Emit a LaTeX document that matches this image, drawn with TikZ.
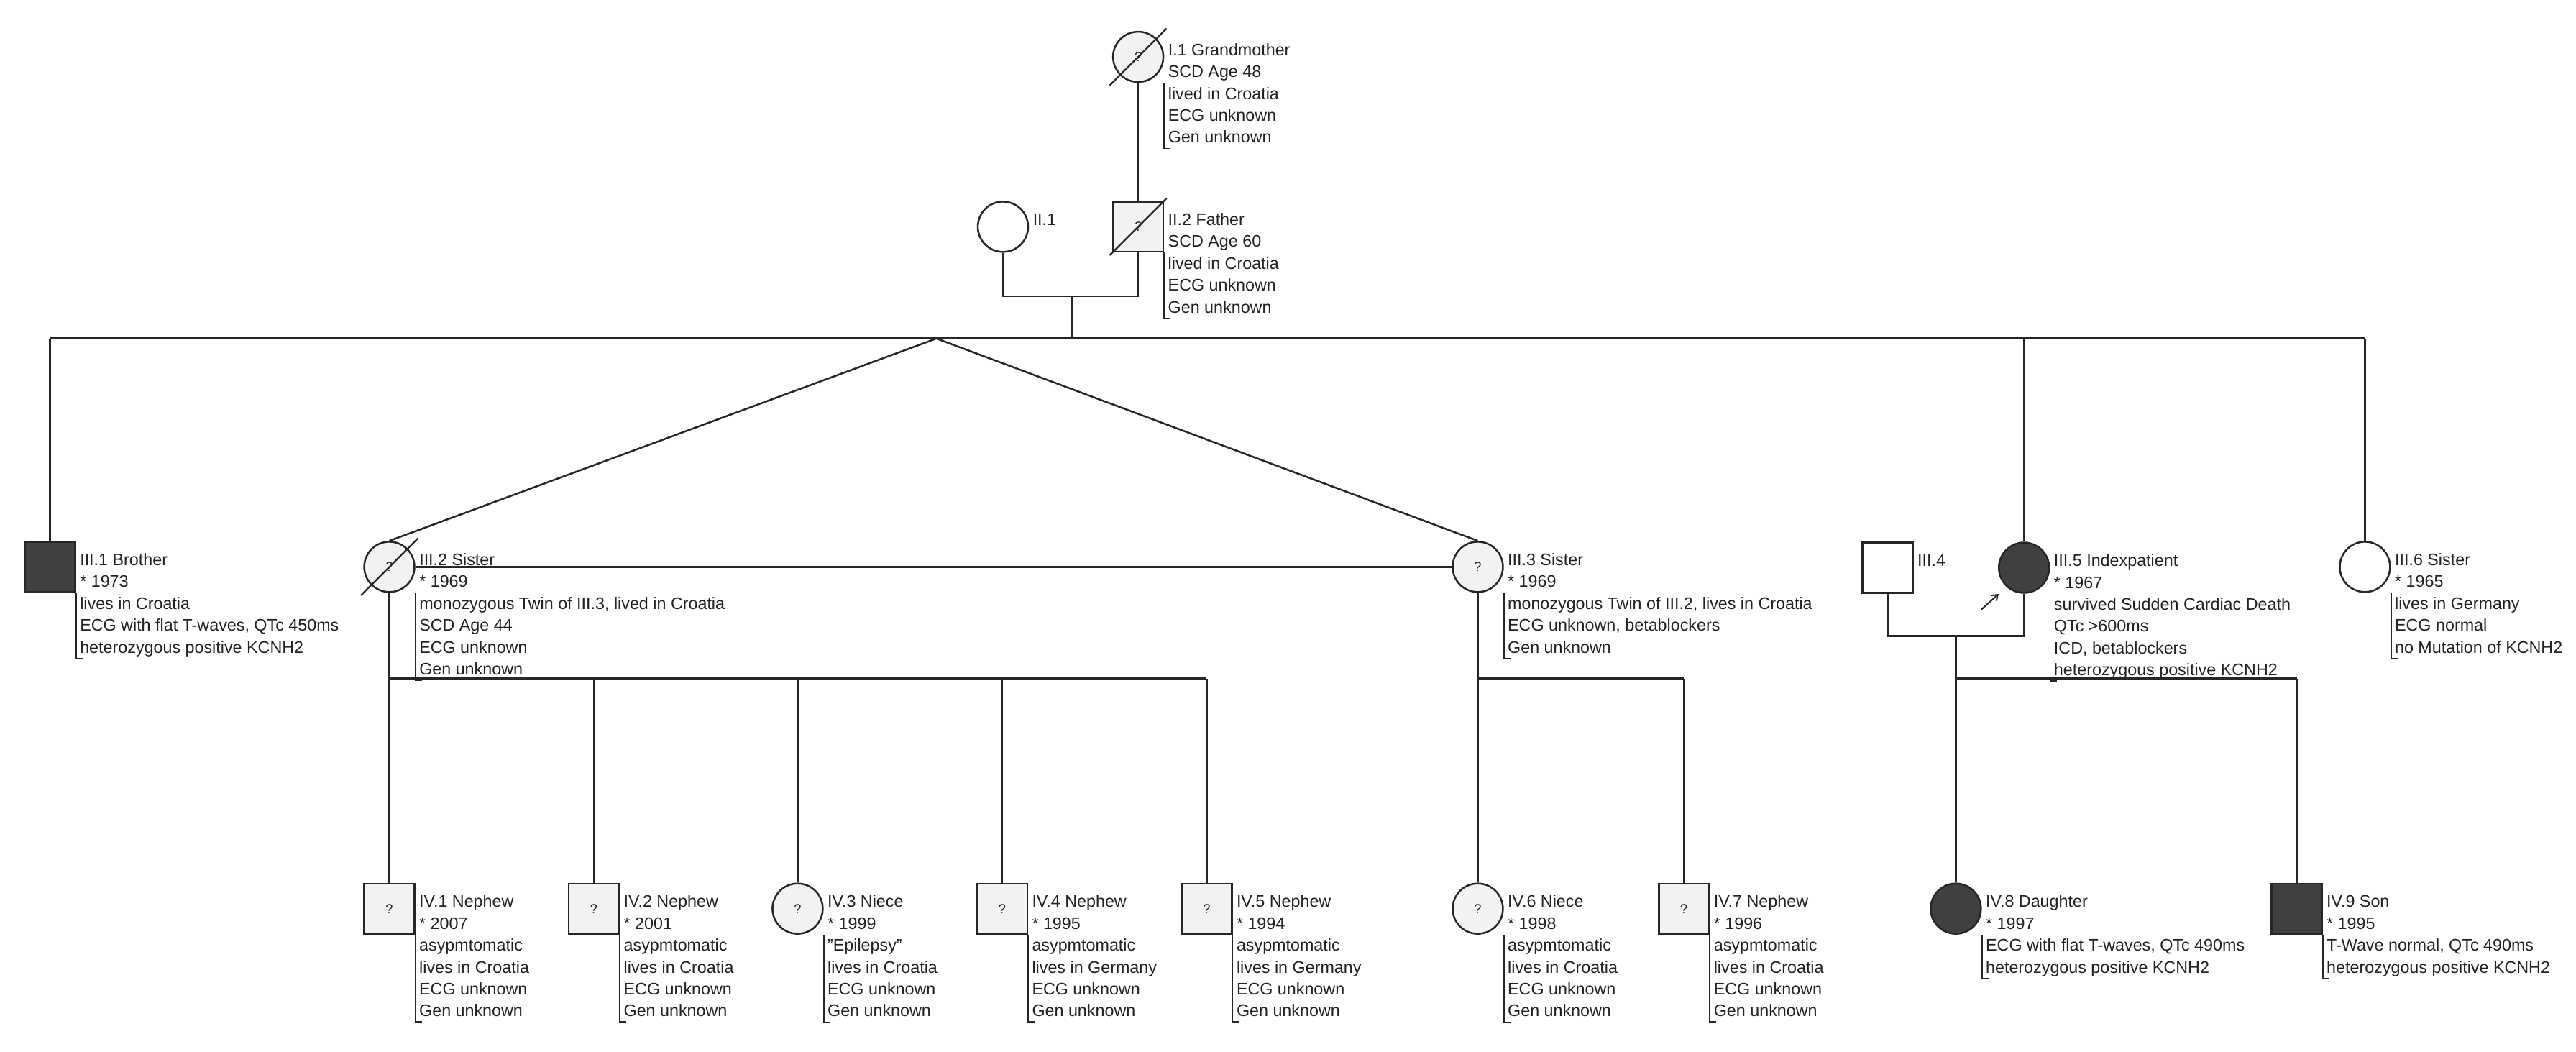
\documentclass[tikz,border=0pt]{standalone}
\usepackage{fontspec}
\setmainfont{Liberation Sans}
\usetikzlibrary{calc,arrows.meta}
\definecolor{ink}{HTML}{262626}
\definecolor{dark}{HTML}{404040}
\definecolor{light}{HTML}{F2F2F2}
\definecolor{txt}{HTML}{222222}
\tikzset{
  sym/.style={draw=ink, line width=1.1pt, inner sep=0pt, text=txt, font=\fontsize{8}{9}\selectfont},
  male/.style={sym, rectangle, minimum size=30.5pt},
  female/.style={sym, circle, minimum size=30.6pt},
  unk/.style={fill=light},
  aff/.style={fill=dark},
  plain/.style={fill=white},
  lbl/.style={anchor=north west, align=left, inner sep=0pt, text=txt, font=\fontsize{10.2}{13.3}\selectfont},
  link/.style={draw=ink, line width=1.1pt, line join=miter},
  brk/.style={draw=ink, line width=0.8pt},
}
\newcommand\lbline{\rule{0pt}{9.6pt}}
\newcommand\perslabel[3]{%
  \node[lbl] (#1-t) at ($(#1.east)+(2.2,-10.6)$) {\lbline#2};
  \ifnum#3>2 \draw[brk] (#1.east |- #1.south) -- ++(0,{13.3*(#3-2)}) -- ++(4,0);\fi
}
\newcommand\deceased[1]{\draw[link, line width=1pt] ($(#1)+(-17.3,17.3)$) -- ($(#1)+(17.3,-17.3)$);}
\begin{document}
\begin{tikzpicture}[x=1pt,y=-1pt]
\useasboundingbox (0,0) rectangle (1568,640);
\fill[white] (0,0) rectangle (1568,640);

% ---------- symbols ----------
\node[female,unk] (I1) at (692.8,34.6) {?};
\node[female,plain] (II1) at (610.5,138) {};
\node[male,unk] (II2) at (692.8,138) {?};

\node[male,aff] (III1) at (30.5,345) {};
\node[female,unk] (III2) at (237,345) {?};
\node[female,unk] (III3) at (899.5,345) {?};
\node[male,plain] (III4) at (1149,345.5) {};
\node[female,aff] (III5) at (1232,345.5) {};
\node[female,plain] (III6) at (1439.5,345) {};

\node[male,unk] (IV1) at (237,553) {?};
\node[male,unk] (IV2) at (361.5,553) {?};
\node[female,unk] (IV3) at (485.5,553) {?};
\node[male,unk] (IV4) at (610,553) {?};
\node[male,unk] (IV5) at (734.5,553) {?};
\node[female,unk] (IV6) at (899.5,553) {?};
\node[male,unk] (IV7) at (1025,553) {?};
\node[female,aff] (IV8) at (1190.5,553) {};
\node[male,aff] (IV9) at (1398,553) {};

\deceased{I1}
\deceased{II2}
\deceased{III2}

% ---------- connectors ----------
\coordinate (m2) at (652.4,180.2);
\coordinate (sibL) at (30.5,206);
\coordinate (sibR) at (1439.5,206);
\coordinate (tw) at (570,206);
\coordinate (c2) at (237,413);
\coordinate (c3) at (899.5,413);
\coordinate (m3) at (1190.5,387);
\coordinate (c5) at (1190.5,413);

\draw[link] (I1.south) -- (II2.north);
\draw[link] (II1.south) -- (II1.south |- m2) -- (II2.south |- m2) -- (II2.south);
\draw[link] (m2) -- (m2 |- sibL);
\draw[link] (sibL) -- (sibR);
\draw[link] (III1.north) -- (sibL);
\draw[link] (III2.north) -- (tw) -- (III3.north);
\draw[link] (III2.east) -- (III3.west);
\draw[link] (III5.north) -- (III5.north |- sibL);
\draw[link] (III6.north) -- (sibR);

\draw[link] (III2.south) -- (c2) -- (IV5.north |- c2);
\foreach \k in {IV1,IV2,IV3,IV4,IV5} \draw[link] (\k.north) -- (\k.north |- c2);

\draw[link] (III3.south) -- (c3) -- (IV7.north |- c3);
\foreach \k in {IV6,IV7} \draw[link] (\k.north) -- (\k.north |- c3);

\draw[link] (III4.south) -- (III4.south |- m3) -- (III5.south |- m3) -- (III5.south);
\draw[link] (m3) -- (c5) -- (IV9.north |- c5);
\foreach \k in {IV8,IV9} \draw[link] (\k.north) -- (\k.north |- c5);

\coordinate (pa) at (1206,371);
\coordinate (pb) at (1216.5,361.5);
\draw[link, line width=0.9pt, -{Straight Barb[length=3pt,width=4.5pt]}] (pa) -- (pb);

% ---------- labels ----------
\perslabel{I1}{I.1 Grandmother\\SCD Age 48\\lived in Croatia\\ECG unknown\\Gen unknown}{5}
\perslabel{II1}{II.1}{1}
\perslabel{II2}{II.2 Father\\SCD Age 60\\lived in Croatia\\ECG unknown\\Gen unknown}{5}
\perslabel{III1}{III.1 Brother\\* 1973\\lives in Croatia\\ECG with flat T-waves, QTc 450ms\\heterozygous positive KCNH2}{5}
\perslabel{III2}{III.2 Sister\\* 1969\\monozygous Twin of III.3, lived in Croatia\\SCD Age 44\\ECG unknown\\Gen unknown}{6}
\perslabel{III3}{III.3 Sister\\* 1969\\monozygous Twin of III.2, lives in Croatia\\ECG unknown, betablockers\\Gen unknown}{5}
\perslabel{III4}{III.4}{1}
\perslabel{III5}{III.5 Indexpatient\\* 1967\\survived Sudden Cardiac Death\\QTc >600ms\\ICD, betablockers\\heterozygous positive KCNH2}{6}
\perslabel{III6}{III.6 Sister\\* 1965\\lives in Germany\\ECG normal\\no Mutation of KCNH2}{5}
\perslabel{IV1}{IV.1 Nephew\\* 2007\\asypmtomatic\\lives in Croatia\\ECG unknown\\Gen unknown}{6}
\perslabel{IV2}{IV.2 Nephew\\* 2001\\asypmtomatic\\lives in Croatia\\ECG unknown\\Gen unknown}{6}
\perslabel{IV3}{IV.3 Niece\\* 1999\\"Epilepsy"\\lives in Croatia\\ECG unknown\\Gen unknown}{6}
\perslabel{IV4}{IV.4 Nephew\\* 1995\\asypmtomatic\\lives in Germany\\ECG unknown\\Gen unknown}{6}
\perslabel{IV5}{IV.5 Nephew\\* 1994\\asypmtomatic\\lives in Germany\\ECG unknown\\Gen unknown}{6}
\perslabel{IV6}{IV.6 Niece\\* 1998\\asypmtomatic\\lives in Croatia\\ECG unknown\\Gen unknown}{6}
\perslabel{IV7}{IV.7 Nephew\\* 1996\\asypmtomatic\\lives in Croatia\\ECG unknown\\Gen unknown}{6}
\perslabel{IV8}{IV.8 Daughter\\* 1997\\ECG with flat T-waves, QTc 490ms\\heterozygous positive KCNH2}{4}
\perslabel{IV9}{IV.9 Son\\* 1995\\T-Wave normal, QTc 490ms\\heterozygous positive KCNH2}{4}
\end{tikzpicture}
\end{document}
